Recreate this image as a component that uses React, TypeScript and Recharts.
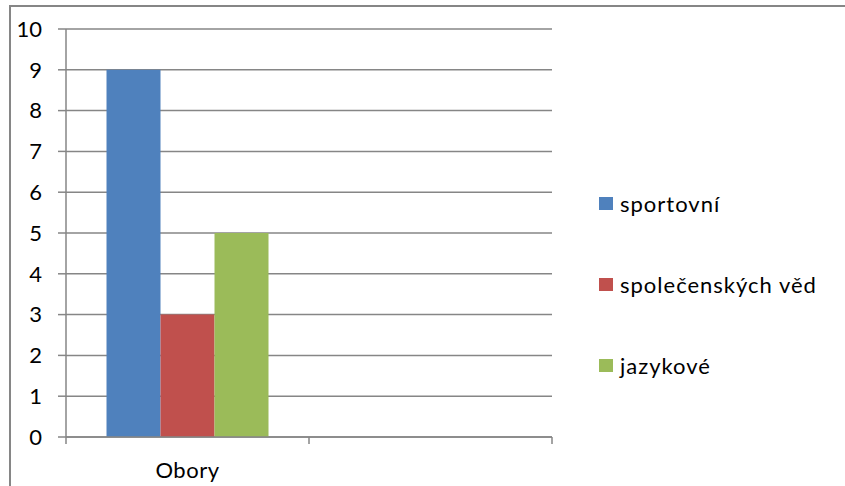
import React from "react";
import { BarChart, Bar, XAxis, YAxis, CartesianGrid } from "recharts";

const categories = ["Obory", ""];
const sportovni = [9, null];
const spolecenskychVed = [3, null];
const jazykove = [5, null];
const yTicks = [0, 1, 2, 3, 4, 5, 6, 7, 8, 9, 10];

const series = [
  { key: "sportovni", name: "sportovní", color: "#4F81BD" },
  { key: "spolecenskychVed", name: "společenských věd", color: "#C0504D" },
  { key: "jazykove", name: "jazykové", color: "#9BBB59" },
];

const data = categories.map((c, i) => ({
  name: c,
  sportovni: sportovni[i],
  spolecenskychVed: spolecenskychVed[i],
  jazykove: jazykove[i],
}));

const W = 845;
const H = 486;
const PLOT_LEFT = 66;
const PLOT_RIGHT = 552;
const PLOT_TOP = 29;
const PLOT_BOTTOM = 437;
const GRID = "#868686";
const FONT = "Lato, 'Open Sans', sans-serif";
const FS = 22;

const bandW = (PLOT_RIGHT - PLOT_LEFT) / categories.length;

// category axis in the reference has tick marks on band edges, not centres
function CatTick(props: any) {
  const { x, y, payload, index } = props;
  const left = x - bandW / 2;
  return (
    <g>
      <line x1={left} y1={y} x2={left} y2={y + 7} stroke={GRID} strokeWidth={1.5} />
      {index === categories.length - 1 && (
        <line x1={x + bandW / 2} y1={y} x2={x + bandW / 2} y2={y + 7} stroke={GRID} strokeWidth={1.5} />
      )}
      <text x={x} y={y + 41} textAnchor="middle" fontSize={FS} fontFamily={FONT} fill="#000" letterSpacing={0.5}>
        {payload.value}
      </text>
    </g>
  );
}

function LegendBox() {
  return (
    <div
      style={{
        position: "absolute",
        left: 599,
        top: 163,
        fontFamily: FONT,
        fontSize: FS,
        letterSpacing: 1,
        color: "#000",
      }}
    >
      {series.map((s) => (
        <div key={s.key} style={{ display: "flex", alignItems: "center", height: 81 }}>
          <span style={{ width: 14, height: 13, background: s.color, marginRight: 7 }} />
          <span>{s.name}</span>
        </div>
      ))}
    </div>
  );
}

export default function App() {
  return (
    <div style={{ position: "absolute", left: 0, top: 0, width: W, height: H, overflow: "hidden", background: "#fff" }}>
      <div
        style={{
          position: "absolute",
          left: 9,
          top: 5,
          width: 1000,
          height: 1000,
          border: `2px solid ${GRID}`,
          boxSizing: "border-box",
        }}
      />
      <div style={{ position: "absolute", left: 0, top: 0 }}>
        <BarChart
          width={W}
          height={H}
          data={data}
          margin={{ top: PLOT_TOP, right: W - PLOT_RIGHT, bottom: 0, left: 0 }}
          barCategoryGap="16.67%"
          barGap={0}
        >
          <CartesianGrid vertical={false} stroke={GRID} strokeWidth={1.5} />
          <XAxis
            dataKey="name"
            height={H - PLOT_BOTTOM}
            axisLine={{ stroke: GRID, strokeWidth: 1.5 }}
            tickLine={false}
            tickSize={0}
            tickMargin={0}
            tick={<CatTick />}
            interval={0}
          />
          <YAxis
            width={PLOT_LEFT}
            domain={[0, 10]}
            ticks={yTicks}
            interval={0}
            axisLine={{ stroke: GRID, strokeWidth: 1.5 }}
            tickLine={{ stroke: GRID, strokeWidth: 1.5 }}
            tickSize={8}
            tickMargin={16}
            tick={{ fontSize: FS, fontFamily: FONT, fill: "#000" }}
          />
          {series.map((s) => (
            <Bar key={s.key} dataKey={s.key} name={s.name} fill={s.color} isAnimationActive={false} />
          ))}
        </BarChart>
      </div>
      <LegendBox />
    </div>
  );
}
